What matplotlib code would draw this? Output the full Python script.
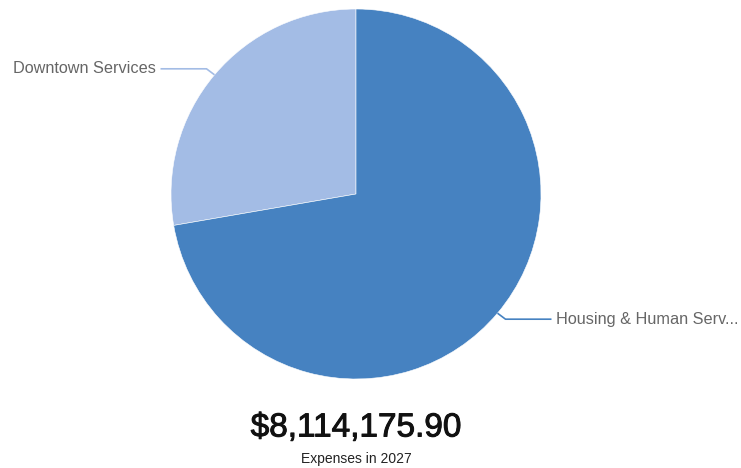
import matplotlib
matplotlib.use('Agg')
import matplotlib.pyplot as plt
import matplotlib.patheffects as pe
import numpy as np

# expense categories for the year
LABELS = ['Downtown Services', 'Housing & Human Services']
SHORT_LABELS = ['Downtown Services', 'Housing & Human Serv...']
VALUES = [2249000.00, 5865175.90]
COLORS = ['#a3bce5', '#4682c1']
YEAR = 2027

W, H = 741, 468
fig = plt.figure(figsize=(W / 100, H / 100), dpi=100)
ax = fig.add_axes([0, 0, 1, 1])

cx, cy, r = 356, 274, 185
wedges, _ = ax.pie(VALUES, colors=COLORS, startangle=90, counterclock=True,
                   center=(cx, cy), radius=r, frame=True,
                   wedgeprops=dict(edgecolor='white', linewidth=0.4))
ax.set_xlim(0, W)
ax.set_ylim(0, H)
ax.set_aspect('equal')
ax.axis('off')

# leader lines with short elbow then horizontal run
for w, lab, col in zip(wedges, SHORT_LABELS, COLORS):
    mid = np.deg2rad((w.theta1 + w.theta2) / 2)
    x0, y0 = cx + r * np.cos(mid), cy + r * np.sin(mid)
    side = 1 if np.cos(mid) > 0 else -1
    x1, y1 = x0 + 8 * side, y0 - 6 * (1 if np.sin(mid) < 0 else -1)
    x2 = x1 + 46 * side
    ax.plot([x0, x1, x2], [y0, y1, y1], color=col, lw=1.2,
            solid_capstyle='butt', zorder=5)
    ax.text(x2 + 5 * side, y1, lab, ha='left' if side > 0 else 'right',
            va='center', fontsize=11.7, color='#666666',
            family='Liberation Sans')

total = sum(VALUES)
ax.text(cx, H - 428, f'${total:,.2f}', ha='center', va='center',
        fontsize=24, color='#111111', family='Liberation Sans',
        path_effects=[pe.withStroke(linewidth=0.7, foreground='#111111')])
ax.text(cx, H - 459, f'Expenses in {YEAR}', ha='center', va='center',
        fontsize=10, color='#222222', family='Liberation Sans')

fig.savefig('out.png', dpi=100, facecolor='white')
